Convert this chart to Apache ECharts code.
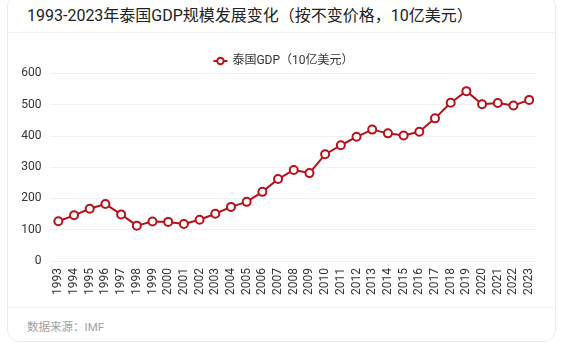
<!DOCTYPE html>
<html>
<head>
<meta charset="utf-8">
<script src="https://cdn.jsdelivr.net/npm/echarts@6/dist/echarts.min.js"></script>
<style>
  html, body { margin: 0; padding: 0; background: #fff; }
  body { width: 566px; height: 350px; position: relative; overflow: hidden;
         font-family: Roboto, "Noto Sans CJK SC", sans-serif; }
  .card { position: absolute; left: 7px; top: -6px; width: 549px; height: 348px;
          border: 1px solid #ececec; border-radius: 12px; box-sizing: border-box; }
  .title { position: absolute; left: 27px; top: 4px; font-size: 16px; color: #222;
           line-height: 24px; white-space: nowrap; }
  .sep { position: absolute; left: 8px; width: 547px; height: 1px; background: #f2f2f2; }
  .source { position: absolute; left: 27px; top: 318px; font-size: 11.5px; color: #a0a0a0;
            line-height: 18px; }
  #chart { position: absolute; left: 0; top: 0; width: 566px; height: 350px; }
</style>
</head>
<body>
<div class="card"></div>
<div class="title">1993-2023年泰国GDP规模发展变化（按不变价格，10亿美元）</div>
<div class="sep" style="top:32px"></div>
<div class="sep" style="top:307px"></div>
<div class="source">数据来源：IMF</div>
<div id="chart"></div>
<script>
const years = ['1993', '1994', '1995', '1996', '1997', '1998', '1999', '2000', '2001', '2002',
  '2003', '2004', '2005', '2006', '2007', '2008', '2009', '2010', '2011', '2012',
  '2013', '2014', '2015', '2016', '2017', '2018', '2019', '2020', '2021', '2022', '2023']
const gdp = [127, 146, 167, 182, 149, 113, 126, 125, 118, 132,
  151, 173, 189, 221, 262, 291, 281, 341, 370, 397,
  420, 408, 401, 413, 456, 506, 543, 501, 505, 497, 515]
const seriesName = '泰国GDP（10亿美元）'

const chart = echarts.init(document.getElementById('chart'))
chart.setOption({
  animation: false,
  textStyle: { fontFamily: 'Roboto, "Noto Sans CJK SC", sans-serif' },
  legend: {
    top: 50,
    left: 'center',
    itemWidth: 14,
    itemHeight: 8,
    itemGap: 4,
    textStyle: { fontSize: 12, color: '#333' },
    data: [seriesName]
  },
  grid: { left: 50.5, right: 29, top: 73.3, bottom: 89 },
  xAxis: {
    type: 'category',
    data: years,
    axisLine: { show: false },
    axisTick: { show: false },
    axisLabel: { rotate: 90, fontSize: 12, color: '#333', margin: 7, interval: 0 }
  },
  yAxis: {
    type: 'value',
    min: 0,
    max: 600,
    interval: 100,
    axisLine: { show: false },
    axisTick: { show: false },
    axisLabel: { fontSize: 12, color: '#333', margin: 9 },
    splitLine: { lineStyle: { color: '#e3e3e3', type: 'dotted' } }
  },
  series: [{
    name: seriesName,
    type: 'line',
    data: gdp,
    symbol: 'emptyCircle',
    symbolSize: 8,
    lineStyle: { color: '#b5121b', width: 2 },
    itemStyle: { color: '#b5121b', borderWidth: 2 }
  }]
})
</script>
</body>
</html>
